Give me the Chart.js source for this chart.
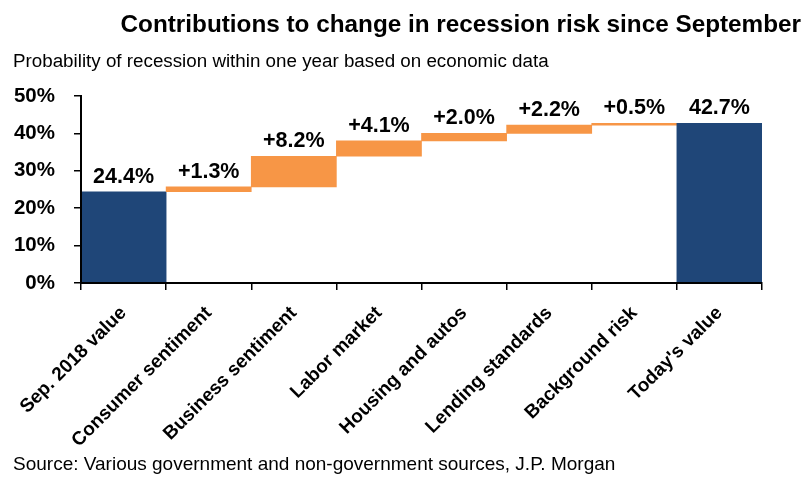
<!DOCTYPE html>
<html>
<head>
<meta charset="utf-8">
<script src="https://cdn.jsdelivr.net/npm/chart.js@4.4.1/dist/chart.umd.min.js"></script>
<style>
  html, body { margin: 0; padding: 0; background: #ffffff; }
  #wrap { width: 806px; height: 479px; position: relative; }
</style>
</head>
<body>
<div id="wrap"><canvas id="c"></canvas></div>
<script>
// ---- data ----
const categories = ['Sep. 2018 value', 'Consumer sentiment', 'Business sentiment', 'Labor market',
                    'Housing and autos', 'Lending standards', 'Background risk', "Today's value"];
const startValue = 24.4;
const contributions = [1.3, 8.2, 4.1, 2.0, 2.2, 0.5];
const endValue = 42.7;
const yTickValues = [0, 10, 20, 30, 40, 50];

const titleText = 'Contributions to change in recession risk since September';
const subtitleText = 'Probability of recession within one year based on economic data';
const sourceText = 'Source: Various government and non-government sources, J.P. Morgan';

// ---- build waterfall ranges ----
const ranges = [[0, startValue]];
const labels = [startValue.toFixed(1) + '%'];
let level = startValue;
contributions.forEach(c => {
  ranges.push([level, level + c]);
  labels.push('+' + c.toFixed(1) + '%');
  level += c;
});
ranges.push([0, endValue]);
labels.push(endValue.toFixed(1) + '%');

const BLUE = '#1F4678';
const ORANGE = '#F79646';
const colors = ranges.map((r, i) => (i === 0 || i === ranges.length - 1) ? BLUE : ORANGE);

const FONT = "'Liberation Sans', Arial, Helvetica, sans-serif";
Chart.defaults.font.family = FONT;
Chart.defaults.color = '#000000';

const textPlugin = {
  id: 'texts',
  afterDraw(chart) {
    const ctx = chart.ctx;
    ctx.save();
    ctx.fillStyle = '#000000';
    ctx.textBaseline = 'alphabetic';
    ctx.font = 'bold 24.3px ' + FONT;
    ctx.textAlign = 'right';
    ctx.fillText(titleText, 801, 31.5);
    ctx.textAlign = 'left';
    ctx.font = '18.8px ' + FONT;
    ctx.fillText(subtitleText, 13, 66.5);
    ctx.font = '19px ' + FONT;
    ctx.fillText(sourceText, 13, 470);
    ctx.restore();
  }
};

const valueLabelPlugin = {
  id: 'valueLabels',
  afterDatasetsDraw(chart) {
    const ctx = chart.ctx;
    const meta = chart.getDatasetMeta(0);
    ctx.save();
    ctx.fillStyle = '#000000';
    ctx.font = 'bold 21.5px ' + FONT;
    ctx.textAlign = 'center';
    ctx.textBaseline = 'alphabetic';
    meta.data.forEach((el, i) => {
      const top = Math.min(el.y, el.base);
      ctx.fillText(labels[i], el.x, top - 9);
    });
    ctx.restore();
  }
};

new Chart(document.getElementById('c'), {
  type: 'bar',
  data: {
    labels: categories,
    datasets: [{
      data: ranges,
      backgroundColor: colors,
      borderWidth: 0,
      barPercentage: 1.0,
      categoryPercentage: 1.0
    }]
  },
  options: {
    responsive: true,
    maintainAspectRatio: false,
    animation: false,
    layout: { padding: { left: 14, right: 44, top: 96, bottom: 4 } },
    plugins: {
      legend: { display: false },
      title: { display: false },
      tooltip: { enabled: false }
    },
    scales: {
      x: {
        afterFit: s => { s.height = 192; },
        grid: { display: true, drawOnChartArea: false, drawTicks: true, tickLength: 7, color: '#000000', lineWidth: 1.5, offset: true },
        border: { display: true, color: '#000000', width: 2, z: 1 },
        ticks: {
          autoSkip: false, maxRotation: 45, minRotation: 45, padding: 12,
          color: '#000000',
          font: { size: 19, weight: 'bold' }
        }
      },
      y: {
        min: 0, max: 50,
        afterFit: s => { s.width = 67; },
        afterBuildTicks: s => { s.ticks = yTickValues.map(v => ({ value: v })); },
        grid: { display: true, drawOnChartArea: false, drawTicks: true, tickLength: 7, color: '#000000', lineWidth: 1.5 },
        border: { display: true, color: '#000000', width: 2, z: 1 },
        ticks: {
          padding: 19,
          color: '#000000',
          font: { size: 20.5, weight: 'bold' },
          callback: v => v + '%'
        }
      }
    }
  },
  plugins: [textPlugin, valueLabelPlugin]
});
</script>
</body>
</html>
